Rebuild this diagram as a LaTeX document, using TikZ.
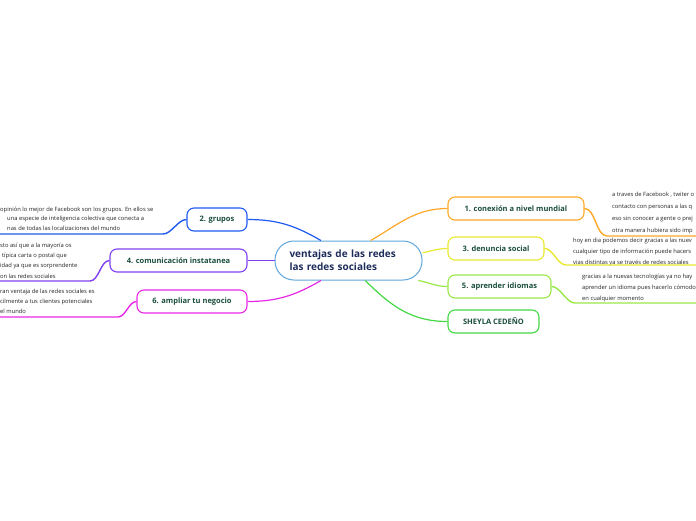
\documentclass[tikz,border=0pt]{standalone}
\usepackage{fontspec}
\setmainfont{Open Sans}
\definecolor{cblue}{HTML}{1E5AF0}
\definecolor{cpurple}{HTML}{8040F0}
\definecolor{cmag}{HTML}{E828E8}
\definecolor{corange}{HTML}{FFA726}
\definecolor{cyellow}{HTML}{E8E830}
\definecolor{clgreen}{HTML}{99E84A}
\definecolor{cgreen}{HTML}{44D844}
\definecolor{ccenter}{HTML}{5EA6DC}
\definecolor{ctext}{HTML}{1B4D3E}
\definecolor{cnavy}{HTML}{1F2D5C}
\definecolor{cdesc}{HTML}{222222}
\tikzset{
  topic/.style={draw, fill=white, rounded corners=7pt, line width=1.1pt, minimum height=23pt,
    inner sep=0pt, font=\fontsize{7.5}{9}\selectfont\bfseries, text=ctext},
  desc/.style={text=cdesc, align=left, inner sep=0pt, anchor=north west},
  link/.style={line width=1.2pt},
  uline/.style={line width=1.4pt}
}
\begin{document}
\begin{tikzpicture}[x=1pt,y=-1pt]
\useasboundingbox (0,0) rectangle (696,520);
% central node
\node[draw=ccenter, fill=white, line width=1pt, rounded corners=19pt, minimum height=39pt,
  text width=118pt, inner xsep=14.5pt, inner ysep=0pt, align=left,
  font=\fontsize{10}{13}\selectfont\bfseries, text=cnavy] (ctr) at (348.5,260.5)
  {ventajas de las redes\\las redes sociales};

% topics
\node[topic, draw=corange, minimum width=136pt] (c1) at (516,208.5) {1. conexión a nivel mundial};
\node[topic, draw=cyellow, minimum width=96pt] (c3) at (496,248.5) {3. denuncia social};
\node[topic, draw=clgreen, minimum width=103pt] (c5) at (499.5,286.5) {5. aprender idiomas};
\node[topic, draw=cgreen, minimum width=91pt] (sh) at (493.5,321.5) {SHEYLA CEDEÑO};
\node[topic, draw=cblue, minimum width=60pt] (c2) at (217,219.5) {2. grupos};
\node[topic, draw=cpurple, minimum width=137pt] (c4) at (178.5,260.5) {4. comunicación instatanea};
\node[topic, draw=cmag, minimum width=110pt] (c6) at (192,301.5) {6. ampliar tu negocio};

% central links
\draw[link, corange] (ctr.42) to[out=30,in=180] (c1.west);
\draw[link, cyellow] (ctr.6) to[out=10,in=180] (c3.west);
\draw[link, clgreen] (ctr.-16) to[out=-10,in=180] (c5.west);
\draw[link, cgreen] (ctr.-50) to[out=-45,in=180] (sh.west);
\draw[link, cblue] (ctr.144) to[out=150,in=0] (c2.east);
\draw[link, cpurple] (ctr.west) -- (c4.east);
\draw[link, cmag] (ctr.216) to[out=-150,in=0] (c6.east);

% descriptions right
\node[desc, font=\fontsize{5.8}{12}\selectfont] (d1) at (612,191.5) {a traves de Facebook , twiter o\\contacto con personas a las q\\eso sin conocer a gente o prej\\otra manera hubiera sido imp};
\coordinate (u1a) at (607,236);
\coordinate (u1b) at (696,236);
\draw[uline, corange] (c1.east) to[out=0,in=180,looseness=0.8] (u1a) -- (u1b);

\node[desc, font=\fontsize{5.8}{11}\selectfont] (d3) at (573,237.5) {hoy en dia podemos decir gracias a las nuev\\cualquier tipo de información puede hacers\\vias distintas ya se través de redes sociales};
\coordinate (u3a) at (566,265);
\coordinate (u3b) at (696,265);
\draw[uline, cyellow] (c3.east) to[out=0,in=180,looseness=0.8] (u3a) -- (u3b);

\node[desc, font=\fontsize{5.8}{11}\selectfont] (d5) at (582,273.5) {gracias a la nuevas tecnologías ya no hay\\aprender un idioma pues hacerlo cómodo,\\en cualquier momento};
\coordinate (u5a) at (575,303);
\coordinate (u5b) at (696,303);
\draw[uline, clgreen] (c5.east) to[out=0,in=180,looseness=0.8] (u5a) -- (u5b);

% descriptions left
\node[desc, font=\fontsize{5.8}{9.8}\selectfont] (d2) at (0,206.5) {opinión lo mejor de Facebook son los grupos. En ellos se\\\hspace*{7pt}una especie de inteligencia colectiva que conecta a\\\hspace*{7pt}nas de todas las localizaciones del mundo};
\coordinate (u2a) at (163,234);
\coordinate (u2b) at (0,234);
\draw[uline, cblue] (c2.west) to[out=180,in=0,looseness=0.8] (u2a) -- (u2b);

\node[desc, font=\fontsize{5.8}{10.3}\selectfont] (d4) at (0,242.5) {sto así que a la mayoría os\\\hspace*{2pt}típica carta o postal que\\idad ya que es sorprendente\\on las redes sociales};
\coordinate (u4a) at (90,281);
\coordinate (u4b) at (0,281);
\draw[uline, cpurple] (c4.west) to[out=180,in=0,looseness=0.8] (u4a) -- (u4b);

\node[desc, font=\fontsize{5.8}{10}\selectfont] (d6) at (0,288.5) {ran ventaja de las redes sociales es\\cilmente a tus clientes potenciales\\el mundo};
\coordinate (u6a) at (118,317);
\coordinate (u6b) at (0,317);
\draw[uline, cmag] (c6.west) to[out=180,in=0,looseness=0.8] (u6a) -- (u6b);
\end{tikzpicture}
\end{document}
